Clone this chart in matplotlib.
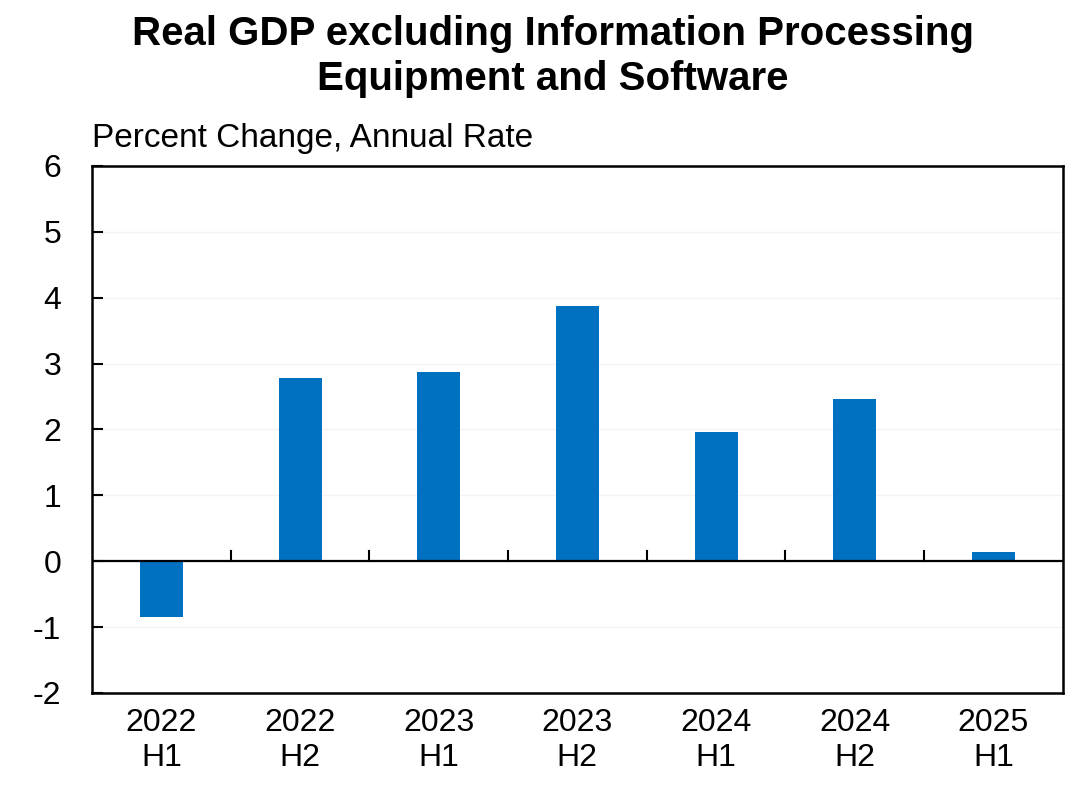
import numpy as np
from matplotlib import pyplot as plt

plt.rcParams["font.family"] = ["Liberation Sans", "DejaVu Sans"]
plt.rcParams["axes.unicode_minus"] = False

# Data
periods = ["2022\nH1", "2022\nH2", "2023\nH1", "2023\nH2", "2024\nH1", "2024\nH2", "2025\nH1"]
gdp_ex_ipes = [-0.85, 2.78, 2.87, 3.88, 1.96, 2.47, 0.14]

fig = plt.figure(figsize=(10.8, 7.96), dpi=100)
ax = fig.add_axes([0.0852, 0.1294, 0.8988, 0.6621])

x = np.arange(len(periods))
ax.bar(x, gdp_ex_ipes, width=0.31, color="#0070c0", zorder=3)

# Axis limits and ticks
ax.set_xlim(-0.5, len(periods) - 0.5)
ax.set_ylim(-2, 6)
ax.set_yticks(range(-2, 7))
ax.grid(axis="y", color="#f3f3f3", linewidth=1, zorder=0)
ax.axhline(0, color="black", linewidth=1.6, zorder=4)

ax.set_xticks(x)
ax.set_xticklabels(periods, fontsize=23, linespacing=1.2)
ax.tick_params(axis="x", length=0, pad=11)
ax.tick_params(axis="y", direction="in", length=8, width=1.5, labelsize=23, pad=22)

# boundary ticks sitting on the zero line
for b in x[:-1] + 0.5:
    ax.plot([b, b], [0, 0.15], color="black", linewidth=1.5, zorder=4)

for s in ax.spines.values():
    s.set_linewidth(1.8)

# Texts
fig.text(0.512, 0.9435, "Real GDP excluding Information Processing",
         ha="center", va="baseline", fontsize=29, fontweight="bold")
fig.text(0.512, 0.887, "Equipment and Software",
         ha="center", va="baseline", fontsize=29, fontweight="bold")
fig.text(0.0852, 0.8153, "Percent Change, Annual Rate", ha="left", va="baseline", fontsize=24)

plt.savefig("out.png", dpi=100)
